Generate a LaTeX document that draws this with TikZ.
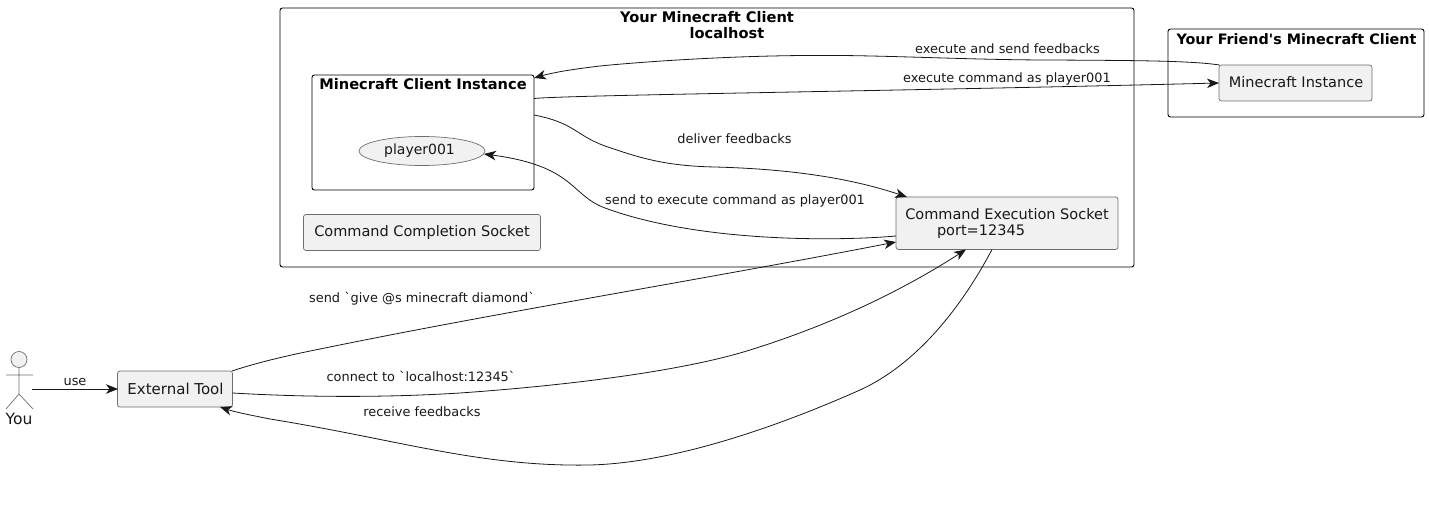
\documentclass[tikz,border=0pt]{standalone}
\usepackage{fontspec}
\newfontfamily\djv{DejaVu Sans}
\usetikzlibrary{arrows.meta,shapes.geometric}
\definecolor{ink}{HTML}{181818}
\definecolor{boxfill}{HTML}{F1F1F1}
\definecolor{boxline}{HTML}{6E6E6E}
\tikzset{
  x=1pt,y=-1pt,
  every node/.style={inner sep=0pt,outer sep=0pt},
  cluster/.style={draw=black,line width=0.9pt,rounded corners=2.5pt,anchor=north west},
  compbox/.style={draw=boxline,fill=boxfill,line width=0.7pt,rounded corners=2.5pt,anchor=north west},
  boxtext/.style={font=\djv\fontsize{14.5}{17}\selectfont,text=ink},
  bigtitle/.style={font=\djv\bfseries\fontsize{14.6}{16}\selectfont},
  lbl/.style={font=\djv\fontsize{12.9}{15}\selectfont,text=ink},
  conn/.style={draw=ink,line width=0.8pt},
  arr/.style={conn,-{Stealth[length=12pt,width=9.5pt,inset=3.5pt]}},
  figure/.style={draw=boxline,line width=0.7pt},
}
\begin{document}
\begin{tikzpicture}
\useasboundingbox (0,0) rectangle (1429,513);
% clusters
\node[cluster,minimum width=854pt,minimum height=259pt] (client) at (280,8) {};
\node[cluster,minimum width=222pt,minimum height=115pt] (inst) at (312,75) {};
\node[cluster,minimum width=256pt,minimum height=88pt] (friend) at (1168,29) {};
\node[bigtitle] (t1) at (707,17) {Your Minecraft Client};
\node[bigtitle] (t1b) at (727,33) {localhost};
\node[bigtitle] (t2) at (423,84) {Minecraft Client Instance};
\node[bigtitle,font=\djv\bfseries\fontsize{14.35}{16}\selectfont] (t3) at (1296.5,39) {Your Friend's Minecraft Client};
% components
\node[compbox,minimum width=237pt,minimum height=36pt] (completion) at (303.5,214.5) {};
\node[boxtext] (completiontext) at (422,232) {Command Completion Socket};
\node[compbox,minimum width=222pt,minimum height=52.5pt] (exec) at (896,197) {};
\node[boxtext] (execa) at (1007,214) {Command Execution Socket};
\node[boxtext] (execb) at (981,231.5) {port=12345};
\node[compbox,minimum width=153pt,minimum height=36pt] (mcinst) at (1219,65) {};
\node[boxtext] (mcinsttext) at (1296,82.5) {Minecraft Instance};
\node[compbox,minimum width=115pt,minimum height=36pt] (tool) at (117.5,371) {};
\node[boxtext,font=\djv\fontsize{15}{17}\selectfont] (tooltext) at (175.5,389) {External Tool};
\node[draw=boxline,fill=boxfill,line width=0.7pt,ellipse,minimum width=126pt,minimum height=29pt] (player) at (422,151) {};
\node[boxtext,font=\djv\fontsize{14}{17}\selectfont] (playertext) at (419.5,150.5) {player001};
% actor
\node[draw=boxline,fill=boxfill,line width=0.7pt,circle,minimum size=16pt] (head) at (19,359.5) {};
\coordinate (hip) at (19,394);
\coordinate (armL) at (6,375);
\coordinate (armR) at (33,375);
\coordinate (legL) at (6,409);
\coordinate (legR) at (33,409);
\draw[figure] (head.south) -- (hip) (armL) -- (armR) (legL) -- (hip) -- (legR);
\node[boxtext,font=\djv\fontsize{15.5}{17}\selectfont] (you) at (19,419) {You};
\coordinate (youOut) at (32,389);
% connector ends
\coordinate (a1) at (1219.5,65);
\coordinate (a2) at (534,78);
\coordinate (b1) at (534,98.5);
\coordinate (b2) at (1219,83);
\coordinate (c1) at (534,115);
\coordinate (c2) at (907,197);
\coordinate (d1) at (896,236);
\coordinate (d2) at (484,154);
\coordinate (e1) at (232,371);
\coordinate (e2) at (896,242);
\coordinate (f1) at (232.5,393);
\coordinate (f2) at (966,249.5);
\coordinate (g1) at (992,249.5);
\coordinate (g2) at (220,407);
\coordinate (toolIn) at (118,389);
% connectors
\draw[arr] (youOut) -- (toolIn);
\draw[arr] (a1) .. controls (1190,60.5) and (1130,60.5) .. (1050,60) .. controls (980,60) and (900,56) .. (840,55.5) .. controls (740,54.5) and (640,62) .. (600,66) .. controls (575,69) and (555,72) .. (a2);
\draw[arr] (b1) .. controls (570,95) and (900,91) .. (b2);
\draw[arr] (c1) .. controls (575,123) and (575,135) .. (605,146) .. controls (640,158) and (665,166) .. (715,167) .. controls (790,169) and (850,178) .. (c2);
\draw[arr] (d1) .. controls (840,241) and (700,243) .. (605,208) .. controls (570,195) and (575,166) .. (d2);
\draw[arr] (e1) .. controls (250,365) and (275,358) .. (320,349) .. controls (500,312) and (700,280) .. (e2);
\draw[arr] (f1) .. controls (300,397) and (380,398) .. (460,393) .. controls (560,386) and (680,372) .. (750,350) .. controls (830,325) and (900,292) .. (f2);
\draw[arr] (g1) .. controls (960,310) and (915,365) .. (860,390) .. controls (770,430) and (670,463) .. (590,465) .. controls (480,467) and (400,440) .. (270,419) .. controls (250,415) and (235,412) .. (g2);
% labels
\node[lbl] (l1) at (75,381.5) {use};
\node[lbl] (l2) at (1007.5,48.5) {execute and send feedbacks};
\node[lbl] (l3) at (1007,78.5) {execute command as player001};
\node[lbl] (l4) at (734.5,139) {deliver feedbacks};
\node[lbl] (l5) at (735,200.5) {send to execute command as player001};
\node[lbl] (l6) at (422,298.5) {send `give @s minecraft diamond`};
\node[lbl] (l7) at (421,376.5) {connect to `localhost:12345`};
\node[lbl] (l8) at (422,412) {receive feedbacks};
\end{tikzpicture}
\end{document}
